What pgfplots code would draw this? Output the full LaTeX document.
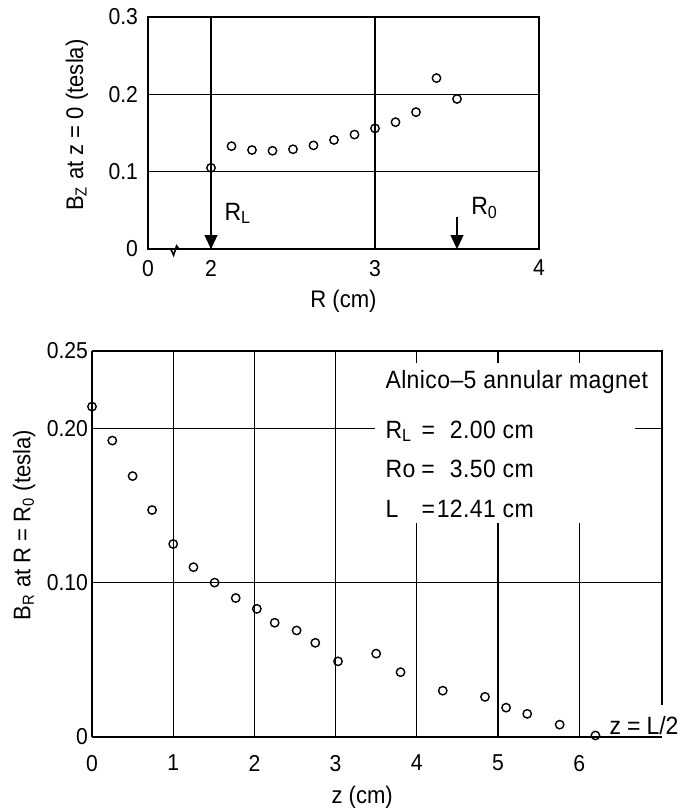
\documentclass[border=0pt]{standalone}
\usepackage{fontspec}
\setmainfont{Liberation Sans}[FakeStretch=0.92]
\newfontfamily\spaced{Liberation Sans}[FakeStretch=0.92, LetterSpace=1.6]
\usepackage{pgfplots}
\pgfplotsset{compat=1.18}
\usetikzlibrary{arrows.meta}

\newcommand\txt{\fontsize{11.5}{13}\selectfont}
\newcommand\note{\fontsize{12.5}{14}\selectfont}

\pgfplotsset{
  chart/.style={
    scale only axis, clip=false,
    axis line style={line width=1pt},
    grid=major,
    major grid style={line width=0.6pt, black},
    major tick length=0pt,
    tick style={draw=none},
    /pgf/number format/assume math mode=true,
    ticklabel style={font=\txt},
    label style={font=\fontsize{12}{14}\selectfont},
  },
  pts/.style={only marks, mark=o, mark size=2.1pt, mark options={line width=0.7pt, black}},
}

\begin{document}
\begin{tikzpicture}[font=\txt]
\path[use as bounding box] (0pt,0pt) rectangle (345pt,-404pt);

% Axial field at the mid-plane versus radius
\begin{axis}[chart,
  at={(74pt,-124.5pt)}, anchor=south west,
  width=195.5pt, height=116pt,
  xmin=1.6159, xmax=4, ymin=0, ymax=0.3,
  xtick={1.6159,2,3,4}, xticklabels={0,2,3,4},
  ytick={0,0.1,0.2,0.3}, yticklabels={0,0.1,0.2,0.3},
  xticklabel style={yshift=-2pt},
  yticklabel style={xshift=-1.5pt},
  xlabel={R (cm)},
  ylabel={B\textsubscript{Z} at z = 0 (tesla)},
  xlabel style={at={(axis description cs:0.5,-0.224)}, anchor=center},
  ylabel style={at={(axis description cs:-0.182,0.534)}, anchor=center},
]
\addplot[pts] coordinates {
  (2.000,0.105) (2.125,0.133) (2.250,0.128) (2.375,0.127) (2.500,0.129)
  (2.625,0.134) (2.750,0.141) (2.875,0.148) (3.000,0.156) (3.125,0.164)
  (3.250,0.177) (3.375,0.221) (3.500,0.194)
};
% broken axis mark
\draw[line width=0.8pt] (axis cs:1.755,0) -- (axis cs:1.772,-0.008) -- (axis cs:1.79,0.004) -- (axis cs:1.805,0);
% inner and outer radius markers
\draw[line width=0.7pt, -{Triangle[width=6.5pt,length=7pt]}] (axis cs:2,0.03) -- (axis cs:2,0);
\draw[line width=0.7pt, -{Triangle[width=6.5pt,length=7pt]}] (axis cs:3.5,0.041) -- (axis cs:3.5,0);
\node[font=\note, anchor=west, inner sep=0pt] at (axis cs:2.08,0.046) {R\textsubscript{L}};
\node[font=\note, anchor=west, inner sep=0pt] at (axis cs:3.585,0.053) {R\textsubscript{0}};
\end{axis}

% Radial field at the outer radius versus axial position
\begin{axis}[chart,
  at={(46pt,-368.5pt)}, anchor=south west,
  width=285pt, height=193pt,
  axis x line*=bottom, axis y line*=left,
  xmin=0, xmax=7.02, ymin=0, ymax=0.25,
  xtick={0,1,2,3,4,5,6}, xticklabels={0,1,2,3,4,5,6},
  ytick={0,0.1,0.2,0.25}, yticklabels={0,0.10,0.20,0.25},
  xticklabel style={yshift=-5.5pt},
  yticklabel style={xshift=1.5pt},
  xlabel={z (cm)},
  ylabel={B\textsubscript{R} at R = R\textsubscript{0} (tesla)},
  xlabel style={at={(axis description cs:0.474,-0.155)}, anchor=center},
  ylabel style={at={(axis description cs:-0.119,0.549)}, anchor=center},
]
\fill[white] (axis cs:3.49,0.1387) rectangle (axis cs:6.69,0.242);
\draw[line width=1pt] (axis cs:0,0.25) -- (axis cs:7.02,0.25) -- (axis cs:7.02,0.0206);
\addplot[pts] coordinates {
  (0.00,0.214) (0.25,0.192) (0.50,0.169) (0.74,0.147) (1.00,0.125)
  (1.25,0.110) (1.51,0.100) (1.77,0.090) (2.03,0.083) (2.25,0.074)
  (2.52,0.069) (2.75,0.061) (3.03,0.049) (3.50,0.054) (3.80,0.042)
  (4.32,0.030) (4.84,0.026) (5.10,0.019) (5.36,0.015) (5.76,0.008)
  (6.20,0.001)
};
\node[font=\spaced\note, anchor=west, inner sep=0pt] at (axis cs:3.61,0.230) {Alnico–5 annular magnet};
\node[font=\spaced\note, anchor=west, inner sep=0pt] at (axis cs:3.61,0.198) {\makebox[18pt][l]{R\textsubscript{L}}=\makebox[30.5pt][r]{2.00} cm};
\node[font=\spaced\note, anchor=west, inner sep=0pt] at (axis cs:3.61,0.1735) {\makebox[18pt][l]{Ro}=\makebox[30.5pt][r]{3.50} cm};
\node[font=\spaced\note, anchor=west, inner sep=0pt] at (axis cs:3.61,0.148) {\makebox[18pt][l]{L}=\makebox[30.5pt][r]{12.41} cm};
\node[font=\note, anchor=west, inner sep=0pt] at (axis cs:6.37,0.0071) {z\hspace{3pt}=\hspace{3pt}L/2};
\end{axis}
\end{tikzpicture}
\end{document}
